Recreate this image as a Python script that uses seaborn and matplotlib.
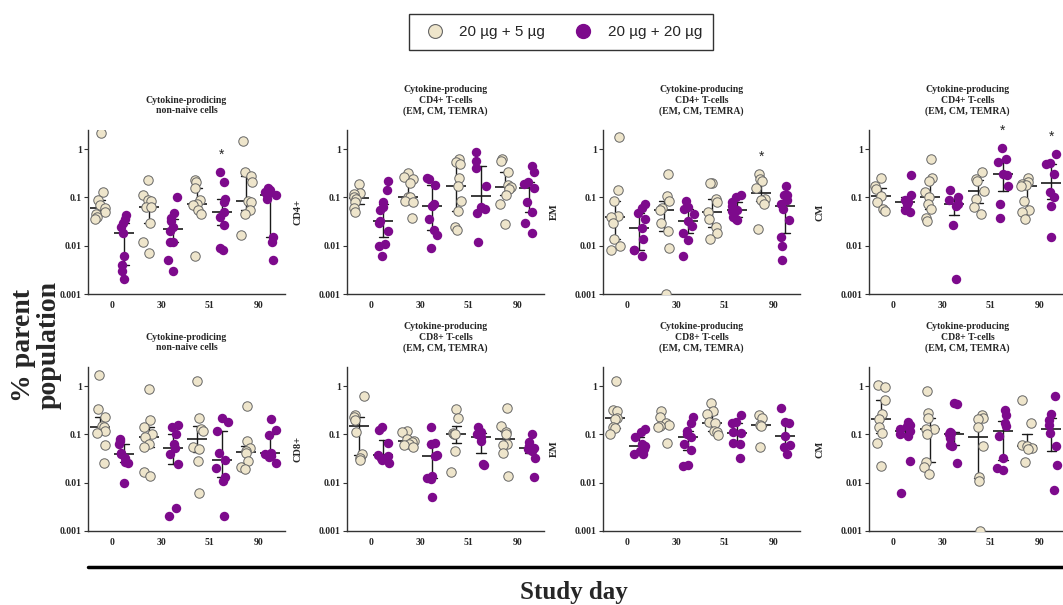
import numpy as np
import pandas as pd
import matplotlib
matplotlib.use("Agg")
import matplotlib.pyplot as plt
from matplotlib.lines import Line2D
import seaborn as sns

# --- Data (values per study day: 0, 30, 51, 90) ---
days = ["0", "30", "51", "90"]
doses = ["20 \u00b5g + 5 \u00b5g", "20 \u00b5g + 20 \u00b5g"]

nonnaive_top_lo = [[2.2, 0.13, 0.09, 0.07, 0.06, 0.05, 0.045, 0.04, 0.035],
                   [0.23, 0.115, 0.09, 0.085, 0.064, 0.062, 0.03, 0.012, 0.007],
                   [0.23, 0.21, 0.16, 0.09, 0.072, 0.07, 0.055, 0.045, 0.006],
                   [1.5, 0.33, 0.28, 0.21, 0.085, 0.08, 0.055, 0.045, 0.017]]
nonnaive_top_hi = [[0.044, 0.036, 0.03, 0.025, 0.018, 0.006, 0.004, 0.003, 0.002],
                   [0.1, 0.048, 0.038, 0.032, 0.024, 0.02, 0.012, 0.012, 0.005, 0.003],
                   [0.33, 0.21, 0.095, 0.08, 0.05, 0.04, 0.027, 0.009, 0.008],
                   [0.16, 0.14, 0.13, 0.115, 0.11, 0.095, 0.015, 0.012, 0.005]]

cd4_lo = [[0.19, 0.125, 0.12, 0.1, 0.095, 0.08, 0.06, 0.05],
          [0.32, 0.26, 0.24, 0.2, 0.1, 0.1, 0.085, 0.08, 0.038],
          [0.64, 0.55, 0.5, 0.25, 0.17, 0.085, 0.052, 0.024, 0.021],
          [0.62, 0.58, 0.34, 0.18, 0.165, 0.15, 0.11, 0.075, 0.028]]
cd4_hi = [[0.22, 0.14, 0.08, 0.065, 0.055, 0.032, 0.03, 0.02, 0.011, 0.01, 0.006],
          [0.25, 0.24, 0.18, 0.075, 0.066, 0.035, 0.021, 0.017, 0.009],
          [0.88, 0.58, 0.4, 0.17, 0.065, 0.058, 0.047, 0.012],
          [0.45, 0.33, 0.21, 0.19, 0.16, 0.08, 0.05, 0.03, 0.018]]

cd4_em_lo = [[1.8, 0.145, 0.085, 0.042, 0.04, 0.03, 0.014, 0.01, 0.008],
             [0.3, 0.105, 0.085, 0.06, 0.055, 0.03, 0.02, 0.009, 0.001],
             [0.2, 0.2, 0.092, 0.08, 0.05, 0.036, 0.024, 0.018, 0.014],
             [0.3, 0.24, 0.22, 0.16, 0.095, 0.088, 0.075, 0.022]]
cd4_em_hi = [[0.075, 0.06, 0.047, 0.035, 0.023, 0.014, 0.008, 0.008, 0.006],
             [0.085, 0.065, 0.058, 0.045, 0.032, 0.026, 0.018, 0.013, 0.006],
             [0.11, 0.1, 0.08, 0.066, 0.055, 0.052, 0.04, 0.036, 0.034],
             [0.17, 0.115, 0.11, 0.088, 0.075, 0.057, 0.034, 0.015, 0.01, 0.005]]

cd4_cm_lo = [[0.25, 0.17, 0.15, 0.105, 0.08, 0.058, 0.052],
             [0.62, 0.25, 0.22, 0.13, 0.1, 0.075, 0.058, 0.038, 0.032],
             [0.33, 0.24, 0.22, 0.135, 0.095, 0.065, 0.045],
             [0.25, 0.21, 0.19, 0.18, 0.17, 0.083, 0.055, 0.05, 0.035]]
cd4_cm_hi = [[0.29, 0.115, 0.09, 0.08, 0.075, 0.055, 0.05],
             [0.145, 0.1, 0.09, 0.072, 0.068, 0.027, 0.002],
             [1.05, 0.62, 0.55, 0.31, 0.29, 0.17, 0.075, 0.037],
             [0.8, 0.52, 0.5, 0.3, 0.13, 0.1, 0.068, 0.015]]

nonnaive_bot_lo = [[1.7, 0.33, 0.23, 0.15, 0.14, 0.12, 0.105, 0.06, 0.026],
                   [0.87, 0.2, 0.14, 0.1, 0.09, 0.065, 0.055, 0.017, 0.014],
                   [1.28, 0.22, 0.13, 0.12, 0.055, 0.05, 0.028, 0.006],
                   [0.39, 0.072, 0.053, 0.045, 0.042, 0.028, 0.021, 0.019]]
nonnaive_bot_hi = [[0.08, 0.075, 0.065, 0.042, 0.04, 0.032, 0.027, 0.026, 0.01],
                   [0.16, 0.14, 0.1, 0.065, 0.052, 0.04, 0.024, 0.003, 0.002],
                   [0.215, 0.18, 0.12, 0.042, 0.03, 0.02, 0.013, 0.011, 0.002],
                   [0.21, 0.125, 0.097, 0.042, 0.04, 0.036, 0.034, 0.026]]

cd8_lo = [[0.64, 0.25, 0.23, 0.2, 0.11, 0.04, 0.033, 0.03],
          [0.12, 0.11, 0.08, 0.075, 0.07, 0.065, 0.06, 0.055],
          [0.33, 0.22, 0.105, 0.1, 0.1, 0.046, 0.017],
          [0.35, 0.15, 0.11, 0.1, 0.065, 0.06, 0.042, 0.014]]
cd8_hi = [[0.145, 0.125, 0.067, 0.038, 0.036, 0.033, 0.03, 0.026],
          [0.14, 0.068, 0.065, 0.038, 0.036, 0.014, 0.0125, 0.012, 0.005],
          [0.145, 0.115, 0.1, 0.09, 0.072, 0.024, 0.023],
          [0.1, 0.07, 0.058, 0.053, 0.05, 0.045, 0.032, 0.013]]

cd8_em_lo = [[1.3, 0.32, 0.3, 0.22, 0.21, 0.14, 0.135, 0.1],
             [0.31, 0.23, 0.17, 0.155, 0.15, 0.14, 0.068],
             [0.44, 0.3, 0.26, 0.18, 0.17, 0.12, 0.11, 0.097],
             [0.25, 0.22, 0.155, 0.15, 0.055]]
cd8_em_hi = [[0.13, 0.11, 0.09, 0.062, 0.058, 0.05, 0.045, 0.04, 0.04],
             [0.23, 0.175, 0.12, 0.1, 0.09, 0.065, 0.047, 0.023, 0.022],
             [0.25, 0.18, 0.175, 0.11, 0.105, 0.068, 0.062, 0.033],
             [0.35, 0.18, 0.17, 0.095, 0.06, 0.055, 0.04]]

cd8_cm_lo = [[1.08, 0.95, 0.53, 0.27, 0.21, 0.14, 0.105, 0.068, 0.022],
             [0.78, 0.28, 0.22, 0.13, 0.13, 0.1, 0.027, 0.021, 0.015],
             [0.25, 0.22, 0.21, 0.14, 0.057, 0.013, 0.011, 0.001],
             [0.53, 0.17, 0.06, 0.057, 0.053, 0.05, 0.027]]
cd8_cm_hi = [[0.18, 0.16, 0.15, 0.13, 0.117, 0.1, 0.095, 0.028, 0.006],
             [0.45, 0.42, 0.11, 0.108, 0.1, 0.083, 0.06, 0.058, 0.026],
             [0.32, 0.25, 0.17, 0.15, 0.094, 0.033, 0.02, 0.018],
             [0.62, 0.27, 0.2, 0.16, 0.105, 0.058, 0.023, 0.007]]

title_nonnaive = "Cytokine-prodicing\nnon-naive cells"
title_cd4 = "Cytokine-producing\nCD4+ T-cells\n(EM, CM, TEMRA)"
title_cd8 = "Cytokine-producing\nCD8+ T-cells\n(EM, CM, TEMRA)"

# (panel index, group index) of significance stars
stars = [(0, 5), (2, 6), (3, 5), (3, 7)]

beige = "#EEE5CB"
purple = "#7D0A8C"

panels = [
    (nonnaive_top_lo, nonnaive_top_hi, title_nonnaive, None),
    (cd4_lo, cd4_hi, title_cd4, "CD4+"),
    (cd4_em_lo, cd4_em_hi, title_cd4, "EM"),
    (cd4_cm_lo, cd4_cm_hi, title_cd4, "CM"),
    (nonnaive_bot_lo, nonnaive_bot_hi, title_nonnaive, None),
    (cd8_lo, cd8_hi, title_cd8, "CD8+"),
    (cd8_em_lo, cd8_em_hi, title_cd8, "EM"),
    (cd8_cm_lo, cd8_cm_hi, title_cd8, "CM"),
]

sns.set_style("ticks")
plt.rcParams["font.family"] = ["Liberation Serif", "DejaVu Serif"]
plt.rcParams["font.weight"] = "bold"
plt.rcParams["axes.titleweight"] = "bold"
plt.rcParams["axes.labelweight"] = "bold"

np.random.seed(3)  # fixed horizontal jitter only

W, H = 1063, 605
fig = plt.figure(figsize=(W / 100, H / 100), dpi=100)

lefts = [88, 347, 603, 869]
bottoms = [294, 531]
order = [f"{d} {s}" for d in days for s in ("lo", "hi")]


def make_frame(lo, hi):
    rows = []
    for d, day in enumerate(days):
        rows += [(f"{day} lo", doses[0], v) for v in lo[d]]
        rows += [(f"{day} hi", doses[1], v) for v in hi[d]]
    return pd.DataFrame(rows, columns=["group", "dose", "value"])


for i, (lo, hi, title, ylab) in enumerate(panels):
    r, c = divmod(i, 4)
    ax = fig.add_axes([lefts[c] / W, 1 - bottoms[r] / H, 197 / W, 164 / H])
    ax.set_yscale("log")
    df = make_frame(lo, hi)

    sns.stripplot(data=df[df["dose"] == doses[0]], x="group", y="value", order=order,
                  color=beige, edgecolor="#666666", linewidth=0.7, size=6.8,
                  jitter=0.24, ax=ax)
    sns.stripplot(data=df[df["dose"] == doses[1]], x="group", y="value", order=order,
                  color=purple, linewidth=0, size=6.8, jitter=0.24, ax=ax)
    # median with interquartile range
    sns.pointplot(data=df, x="group", y="value", order=order, estimator="median",
                  errorbar=("pi", 50), color="#1a1a1a", markers="_", linestyles="none",
                  capsize=0.4, markersize=15, markeredgewidth=1.2,
                  err_kws={"linewidth": 1.0}, ax=ax)

    for p, g in stars:
        if p == i:
            top = df.loc[df["group"] == order[g], "value"].max()
            ax.text(g, top * 2.3, "*", ha="center", va="center", fontsize=10,
                    fontweight="normal", family="Liberation Sans")

    ax.set_xlim(-0.5, 7.6)
    ax.set_ylim(0.001, 2.5)
    ax.set_xticks([0.5, 2.5, 4.5, 6.5], days)
    ax.set_yticks([0.001, 0.01, 0.1, 1], ["0.001", "0.01", "0.1", "1"])
    ax.yaxis.set_minor_locator(matplotlib.ticker.NullLocator())
    ax.tick_params(axis="x", length=0, pad=5, labelsize=7)
    ax.tick_params(axis="y", length=3, width=0.8, pad=1.5, labelsize=7, color="#333333")
    ax.set_xlabel("")
    ax.set_ylabel(ylab if ylab else "", fontsize=7.5)
    ax.yaxis.set_label_coords(-0.225, 0.5)
    ax.set_title(title, fontsize=7, pad=12, linespacing=1.2)
    sns.despine(ax=ax)
    for s in ("left", "bottom"):
        ax.spines[s].set_color("#333333")
        ax.spines[s].set_linewidth(1.0)

fig.text(36 / W, 1 - 345 / H, "% parent\npopulation", rotation=90, ha="center",
         va="center", fontsize=20, linespacing=1.05, multialignment="center")
fig.add_artist(Line2D([88 / W, 1.0], [1 - 567 / H] * 2, color="black", linewidth=2.5))
fig.text(574 / W, 1 - 592 / H, "Study day", ha="center", va="center", fontsize=18)

handles = [Line2D([], [], marker="o", linestyle="none", markerfacecolor=beige,
                  markeredgecolor="#666666", markeredgewidth=0.8, markersize=10),
           Line2D([], [], marker="o", linestyle="none", markerfacecolor=purple,
                  markeredgecolor=purple, markersize=10)]
fig.legend(handles, doses, loc="center", bbox_to_anchor=(561 / W, 1 - 32 / H), ncol=2,
           frameon=True, fancybox=False, edgecolor="#333333", framealpha=1,
           prop={"family": "Liberation Sans", "weight": "normal", "size": 11},
           handletextpad=0.6, columnspacing=1.5, borderpad=0.7)

fig.savefig("out.png", dpi=100)
